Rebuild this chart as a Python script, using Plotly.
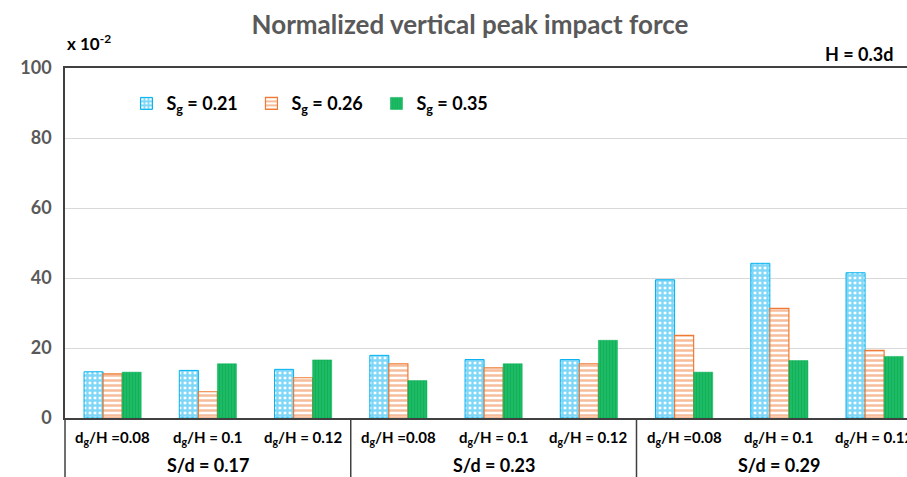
import plotly.graph_objects as go

# Grouping: spacing ratio S/d (outer) and relative grate depth dg/H (inner)
spacing_groups = ["S/d = 0.17", "S/d = 0.23", "S/d = 0.29"]
depth_labels = ["d<sub>g</sub>/H =0.08", "d<sub>g</sub>/H = 0.1", "d<sub>g</sub>/H = 0.12"]

# Normalized vertical peak impact force (x 10^-2), per Sg series
sg_021 = [13.2, 13.6, 13.9, 17.9, 16.7, 16.7, 39.5, 44.2, 41.5]
sg_026 = [12.6, 7.5, 11.5, 15.5, 14.3, 15.5, 23.6, 31.3, 19.3]
sg_035 = [13.1, 15.5, 16.6, 10.7, 15.5, 22.2, 13.1, 16.4, 17.6]

series_names = ["S<sub>g</sub> = 0.21", "S<sub>g</sub> = 0.26", "S<sub>g</sub> = 0.35"]
y_ticks = [0, 20, 40, 60, 80, 100]

outer = [g for g in spacing_groups for _ in depth_labels]
inner = [d for _ in spacing_groups for d in depth_labels]
x_cat = [outer, inner]

FONT = "Lato"
BLUE = "#00B0F0"
ORANGE = "#EE7B35"
GREEN = "#00B050"
AXIS = "#404040"
X_RANGE = [-0.5, 8.34]


def paper_x(idx):
    """Category index -> paper fraction along the x axis."""
    return (idx - X_RANGE[0]) / (X_RANGE[1] - X_RANGE[0])


fig = go.Figure()
fig.add_trace(go.Bar(
    x=x_cat, y=sg_021, name=series_names[0],
    marker=dict(color=BLUE, line=dict(color=BLUE, width=1),
                pattern=dict(shape="+", fgcolor=BLUE, bgcolor="white",
                             size=5, solidity=0.72)),
))
fig.add_trace(go.Bar(
    x=x_cat, y=sg_026, name=series_names[1],
    marker=dict(color=ORANGE, line=dict(color=ORANGE, width=1.2),
                pattern=dict(shape="-", fgcolor=ORANGE, bgcolor="white",
                             size=5, solidity=0.5)),
))
fig.add_trace(go.Bar(
    x=x_cat, y=sg_035, name=series_names[2],
    marker=dict(color=GREEN, line=dict(color=GREEN, width=0.5),
                pattern=dict(shape="|", fgcolor="#00A64C", bgcolor="#22BD68",
                             size=3, solidity=0.5)),
))

fig.update_layout(
    width=907, height=477,
    margin=dict(l=65, r=0, t=68, b=59),
    paper_bgcolor="white", plot_bgcolor="white",
    barmode="group", bargap=0.4, bargroupgap=0,
    font=dict(family=FONT, color="black"),
    title=dict(text="Normalized vertical peak impact force",
               font=dict(family=FONT, size=26, color="#595959", weight="bold"),
               x=470 / 907, xanchor="center", xref="container",
               y=1 - 25 / 477, yanchor="middle", yref="container"),
    legend=dict(orientation="h", x=0.073, y=0.898, xanchor="left", yanchor="middle",
                font=dict(family=FONT, size=18, color="black", weight="bold"),
                itemwidth=30, entrywidth=80, bgcolor="rgba(0,0,0,0)"),
    showlegend=True,
)

fig.update_yaxes(
    range=[0, 100], tickvals=y_ticks, ticktext=[str(v) for v in y_ticks],
    tickfont=dict(family=FONT, size=18, color="#595959", weight="bold"),
    showgrid=True, gridcolor="#D9D9D9", gridwidth=1,
    showline=True, linecolor=AXIS, linewidth=1.5,
    zeroline=False, ticks="", ticklabelstandoff=8,
)

fig.update_xaxes(
    type="multicategory", range=X_RANGE,
    showticklabels=False, showdividers=False, ticks="", showgrid=False,
    showline=True, linecolor=AXIS, linewidth=1.5, mirror=True,
)

# Two-level category labels below the axis
n_inner = len(depth_labels)
for gi, group in enumerate(spacing_groups):
    for di, lab in enumerate(depth_labels):
        idx = gi * n_inner + di
        fig.add_annotation(text=lab, xref="paper", yref="paper",
                           x=paper_x(idx), y=-0.057, xanchor="center", yanchor="middle",
                           showarrow=False,
                           font=dict(family=FONT, size=15, color="black", weight="bold"))
    fig.add_annotation(text=group, xref="paper", yref="paper",
                       x=paper_x(gi * n_inner + (n_inner - 1) / 2), y=-0.134,
                       xanchor="center", yanchor="middle", showarrow=False,
                       font=dict(family=FONT, size=18, color="black", weight="bold"))

# Group dividers (including the left edge) running down through the label rows
for b in range(len(spacing_groups)):
    xb = paper_x(b * n_inner - 0.5)
    fig.add_shape(type="line", xref="paper", yref="paper",
                  x0=xb, x1=xb, y0=0, y1=-0.2,
                  line=dict(color=AXIS, width=1.5))

fig.add_annotation(text="x 10<sup>-2</sup>", xref="paper", yref="paper",
                   x=0, y=1, xanchor="left", yanchor="bottom", yshift=12, showarrow=False,
                   font=dict(family=FONT, size=17, color="black", weight="bold"))
fig.add_annotation(text="H = 0.3d", xref="paper", yref="paper",
                   x=(895 - 65) / 842, y=1, xanchor="right", yanchor="bottom",
                   yshift=1, showarrow=False,
                   font=dict(family=FONT, size=18, color="black", weight="bold"))

fig.write_html("out.html")
